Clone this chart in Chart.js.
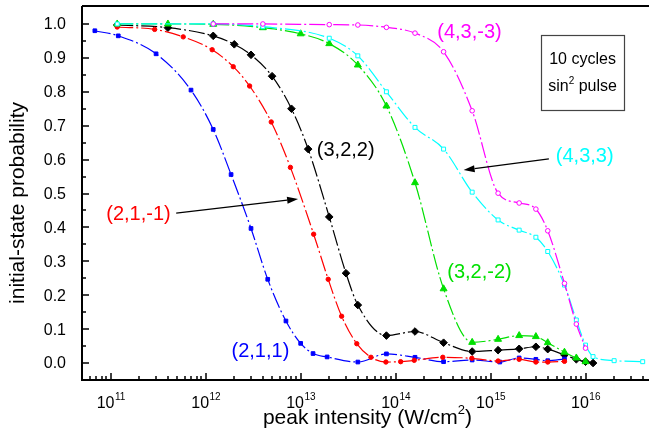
<!DOCTYPE html>
<html>
<head>
<meta charset="utf-8">
<script src="https://cdn.jsdelivr.net/npm/chart.js@4.4.1/dist/chart.umd.min.js"></script>
<style>
  html, body { margin: 0; padding: 0; background: #fff; }
  #wrap { width: 654px; height: 437px; }
</style>
</head>
<body>
<div id="wrap"><canvas id="chart" width="654" height="437"></canvas></div>
<script>
// --- data ---
const s211X = [6.8e10, 1.2e11, 3e11, 7e11, 1.2e12, 1.85e12, 3e12, 4.5e12, 7e12, 1e13, 1.35e13, 1.9e13, 4e13, 8e13, 1.6e14, 3.2e14, 6.4e14, 1.25e15, 2e15, 3e15, 4e15, 6e15];
const s211Y = [0.980, 0.965, 0.912, 0.805, 0.689, 0.556, 0.397, 0.247, 0.124, 0.058, 0.028, 0.018, 0.003, 0.027, 0.017, 0.004, 0.009, 0.003, 0.015, 0.011, 0.007, 0.012];

const s21m1X = [1.17e11, 2.9e11, 5.8e11, 1.17e12, 1.95e12, 2.9e12, 4.9e12, 7.8e12, 1.37e13, 1.95e13, 2.7e13, 3.9e13, 5.5e13, 7.9e13, 1.13e14, 1.57e14, 3.14e14, 6.35e14, 1.2e15, 2e15, 3e15, 4e15, 6e15];
const s21m1Y = [0.991, 0.984, 0.962, 0.924, 0.874, 0.817, 0.711, 0.577, 0.380, 0.247, 0.138, 0.057, 0.017, 0.003, 0.004, 0.008, 0.017, 0.014, 0.006, 0.011, 0.003, 0.003, 0.005];

const s322X = [1.17e11, 4e11, 1.2e12, 2e12, 3e12, 5e12, 8e12, 1.2e13, 2e13, 3e13, 4e13, 8e13, 1.6e14, 3.2e14, 6.4e14, 1.2e15, 2e15, 3e15, 4e15, 6e15, 8e15, 1e16, 1.2e16];
const s322Y = [0.997, 0.989, 0.965, 0.940, 0.909, 0.846, 0.750, 0.631, 0.431, 0.265, 0.171, 0.081, 0.093, 0.060, 0.034, 0.038, 0.042, 0.048, 0.041, 0.024, 0.011, 0.004, 0.000];

const s32m2X = [1.17e11, 4e11, 1.2e12, 4e12, 1e13, 2e13, 4e13, 8e13, 1.6e14, 3.2e14, 6.4e14, 1.2e15, 2e15, 3e15, 4e15, 6e15, 8e15, 1e16];
const s32m2Y = [1.0, 1.0, 0.999, 0.989, 0.971, 0.942, 0.879, 0.758, 0.532, 0.219, 0.061, 0.070, 0.081, 0.078, 0.060, 0.032, 0.015, 0.004];

const s433X = [1.17e11, 1.2e12, 4e12, 2e13, 4e13, 8e13, 1.6e14, 3.2e14, 6.4e14, 1.2e15, 2e15, 3e15, 4e15, 6e15, 8e15, 1e16, 1.2e16, 2e16, 4e16];
const s433Y = [1.0, 1.0, 0.992, 0.958, 0.906, 0.800, 0.695, 0.631, 0.504, 0.422, 0.392, 0.371, 0.329, 0.230, 0.127, 0.053, 0.019, 0.007, 0.004];

const s43m3X = [1.2e12, 4e12, 2e13, 4e13, 8e13, 1.6e14, 3.2e14, 6.4e14, 1.2e15, 2e15, 3e15, 4e15, 6e15, 8e15, 1e16];
const s43m3Y = [1.0, 1.0, 0.998, 0.997, 0.990, 0.973, 0.918, 0.744, 0.501, 0.472, 0.454, 0.390, 0.235, 0.115, 0.044];

const yTicks = [0.0, 0.1, 0.2, 0.3, 0.4, 0.5, 0.6, 0.7, 0.8, 0.9, 1.0];
const xDecades = [11, 12, 13, 14, 15, 16];

// labels in data coordinates
const labels = [
  { text: '(4,3,-3)', x: 6.0e14, y: 0.976, color: '#ff00ff' },
  { text: '(4,3,3)', x: 9.8e15, y: 0.608, color: '#00ffff' },
  { text: '(3,2,2)', x: 2.98e13, y: 0.628, color: '#000000' },
  { text: '(2,1,-1)', x: 1.96e11, y: 0.437, color: '#ff0000' },
  { text: '(3,2,-2)', x: 7.64e14, y: 0.268, color: '#00e000' },
  { text: '(2,1,1)', x: 3.77e12, y: 0.035, color: '#0000ff' }
];
const arrows = [
  { from: [4.11e15, 0.602], to: [5.2e14, 0.569] },
  { from: [4.89e11, 0.442], to: [9.4e12, 0.484] }
];

const FONT = '"Liberation Sans", Arial, Helvetica, sans-serif';
const DASH = [16, 3, 2, 3];

function pts(xs, ys) { return xs.map((x, i) => ({ x: x, y: ys[i] })); }

function series(xs, ys, color, style, r, fill) {
  return {
    data: pts(xs, ys),
    borderColor: color,
    borderWidth: 1.2,
    borderDash: DASH,
    pointStyle: style,
    pointRadius: r,
    pointBackgroundColor: fill || color,
    pointBorderColor: color,
    pointBorderWidth: 1,
    cubicInterpolationMode: 'monotone',
    fill: false
  };
}

function tenPow(ctx, cx, baseY, exp) {
  ctx.font = '16px ' + FONT;
  const w1 = ctx.measureText('10').width;
  ctx.font = '10px ' + FONT;
  const w2 = ctx.measureText(String(exp)).width;
  const left = cx - (w1 + w2) / 2;
  ctx.textAlign = 'left';
  ctx.textBaseline = 'alphabetic';
  ctx.font = '16px ' + FONT;
  ctx.fillText('10', left, baseY);
  ctx.font = '10px ' + FONT;
  ctx.fillText(String(exp), left + w1 + 0.5, baseY - 8);
}

const framePlugin = {
  id: 'frame',
  afterDatasetsDraw(chart) {
    const { ctx, chartArea: a, scales: { x, y } } = chart;
    ctx.save();
    ctx.fillStyle = '#000';
    ctx.strokeStyle = '#000';

    // axes + top border
    ctx.lineWidth = 2;
    ctx.beginPath();
    ctx.moveTo(a.left, a.top); ctx.lineTo(a.right, a.top);
    ctx.moveTo(a.left, a.top); ctx.lineTo(a.left, a.bottom); ctx.lineTo(a.right, a.bottom);
    ctx.stroke();

    // y ticks
    ctx.lineWidth = 1.5;
    ctx.beginPath();
    yTicks.forEach(v => {
      const py = Math.round(y.getPixelForValue(v));
      ctx.moveTo(a.left, py); ctx.lineTo(a.left + 7, py);
      if (v < 1) {
        const pm = Math.round(y.getPixelForValue(v + 0.05));
        ctx.moveTo(a.left, pm); ctx.lineTo(a.left + 4, pm);
      }
    });
    // x ticks
    for (let d = 10; d <= 16; d++) {
      for (let k = 1; k <= 9; k++) {
        const v = k * Math.pow(10, d);
        if (v < x.min || v > x.max) continue;
        const px = Math.round(x.getPixelForValue(v));
        ctx.moveTo(px, a.bottom);
        ctx.lineTo(px, a.bottom - (k === 1 ? 7 : 4));
      }
    }
    ctx.stroke();

    // y tick labels
    ctx.font = '16px ' + FONT;
    ctx.textAlign = 'right';
    ctx.textBaseline = 'middle';
    yTicks.forEach(v => ctx.fillText(v.toFixed(1), 66, y.getPixelForValue(v) + 1));

    // x tick labels
    xDecades.forEach(d => tenPow(ctx, x.getPixelForValue(Math.pow(10, d)), 408, d));

    // axis titles
    ctx.font = '21px ' + FONT;
    ctx.textAlign = 'center';
    ctx.textBaseline = 'alphabetic';
    const tx = (a.left + a.right) / 2 + 2;
    const base = 'peak intensity (W/cm';
    const wBase = ctx.measureText(base).width;
    ctx.font = '13px ' + FONT;
    const wSup = ctx.measureText('2').width;
    ctx.font = '21px ' + FONT;
    const wEnd = ctx.measureText(')').width;
    let lx = tx - (wBase + wSup + wEnd) / 2;
    ctx.textAlign = 'left';
    ctx.fillText(base, lx, 424);
    ctx.font = '13px ' + FONT;
    ctx.fillText('2', lx + wBase, 414);
    ctx.font = '21px ' + FONT;
    ctx.fillText(')', lx + wBase + wSup, 424);

    ctx.save();
    ctx.translate(24, 203);
    ctx.rotate(-Math.PI / 2);
    ctx.textAlign = 'center';
    ctx.fillText('initial-state probability', 0, 0);
    ctx.restore();

    // series labels
    ctx.font = '20px ' + FONT;
    ctx.textAlign = 'center';
    ctx.textBaseline = 'middle';
    labels.forEach(l => {
      ctx.fillStyle = l.color;
      ctx.fillText(l.text, x.getPixelForValue(l.x), y.getPixelForValue(l.y));
    });

    // arrows
    ctx.fillStyle = '#000';
    ctx.strokeStyle = '#000';
    ctx.lineWidth = 1.2;
    arrows.forEach(ar => {
      const x1 = x.getPixelForValue(ar.from[0]), y1 = y.getPixelForValue(ar.from[1]);
      const x2 = x.getPixelForValue(ar.to[0]), y2 = y.getPixelForValue(ar.to[1]);
      const ang = Math.atan2(y2 - y1, x2 - x1);
      const hl = 11, hw = 3.5;
      const bx = x2 - hl * Math.cos(ang), by = y2 - hl * Math.sin(ang);
      ctx.beginPath();
      ctx.moveTo(x1, y1); ctx.lineTo(bx, by);
      ctx.stroke();
      ctx.beginPath();
      ctx.moveTo(x2, y2);
      ctx.lineTo(bx + hw * Math.sin(ang), by - hw * Math.cos(ang));
      ctx.lineTo(bx - hw * Math.sin(ang), by + hw * Math.cos(ang));
      ctx.closePath();
      ctx.fill();
    });

    // pulse info box
    const bl = x.getPixelForValue(3.39e15), br = x.getPixelForValue(2.55e16);
    const bt = y.getPixelForValue(0.968), bb = y.getPixelForValue(0.746);
    ctx.strokeStyle = '#444';
    ctx.lineWidth = 1.2;
    ctx.strokeRect(Math.round(bl) + 0.5, Math.round(bt) + 0.5, Math.round(br - bl), Math.round(bb - bt));
    ctx.fillStyle = '#000';
    const cx = (bl + br) / 2;
    ctx.font = '16px ' + FONT;
    ctx.textAlign = 'center';
    ctx.textBaseline = 'middle';
    ctx.fillText('10 cycles', cx, y.getPixelForValue(0.894));
    const w1 = ctx.measureText('sin').width;
    const w3 = ctx.measureText(' pulse').width;
    ctx.font = '10px ' + FONT;
    const w2 = ctx.measureText('2').width;
    let sx = cx - (w1 + w2 + w3) / 2;
    const sy = y.getPixelForValue(0.814);
    ctx.textAlign = 'left';
    ctx.font = '16px ' + FONT;
    ctx.fillText('sin', sx, sy);
    ctx.font = '10px ' + FONT;
    ctx.fillText('2', sx + w1, sy - 6);
    ctx.font = '16px ' + FONT;
    ctx.fillText(' pulse', sx + w1 + w2, sy);

    ctx.restore();
  }
};

new Chart(document.getElementById('chart'), {
  type: 'line',
  data: {
    datasets: [
      series(s43m3X, s43m3Y, '#ff00ff', 'circle', 2.3, '#ffffff'),
      series(s433X, s433Y, '#00ffff', 'rect', 2.8, '#ffffff'),
      series(s32m2X, s32m2Y, '#00e000', 'triangle', 4),
      series(s21m1X, s21m1Y, '#ff0000', 'circle', 2.2),
      series(s211X, s211Y, '#0000ff', 'rect', 2.6),
      series(s322X, s322Y, '#000000', 'rectRot', 3.8)
    ]
  },
  options: {
    responsive: false,
    animation: false,
    layout: { padding: { top: 6, right: 0, left: 0, bottom: 0 } },
    plugins: { legend: { display: false }, tooltip: { enabled: false } },
    scales: {
      x: {
        type: 'logarithmic',
        min: 4.98e10,
        max: 4.66e16,
        grid: { display: false },
        border: { display: false },
        ticks: { display: false },
        afterFit: s => { s.height = 57; }
      },
      y: {
        type: 'linear',
        min: -0.05,
        max: 1.053,
        grid: { display: false },
        border: { display: false },
        ticks: { display: false },
        afterFit: s => { s.width = 82; }
      }
    }
  },
  plugins: [framePlugin]
});
</script>
</body>
</html>
